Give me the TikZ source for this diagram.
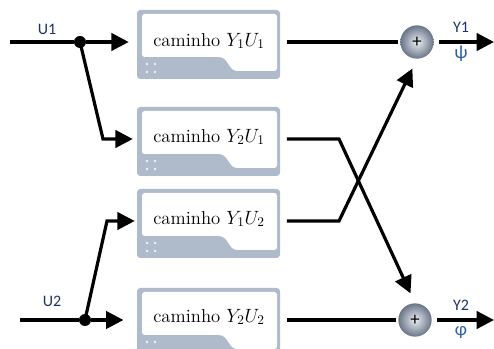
\documentclass[tikz,border=0pt]{standalone}
\usepackage{fontspec}
\newfontfamily\lab{Carlito}
\usetikzlibrary{arrows.meta,calc}
\definecolor{blockgray}{RGB}{175,186,203}
\definecolor{navy}{RGB}{30,50,100}
\definecolor{greekblue}{RGB}{45,95,170}
\definecolor{ballin}{RGB}{235,238,243}
\definecolor{ballout}{RGB}{105,117,135}
\newcommand\blockframe[1]{%
  \fill[blockgray, rounded corners=2.5pt] (137,#1) rectangle (280,#1+69);
  \fill[white, rounded corners=2pt] (142,#1+4) -- (277,#1+4) -- (277,#1+61) -- (240,#1+61)
     .. controls (228,#1+61) and (229,#1+47) .. (216,#1+47) -- (142,#1+47) -- cycle;
  \foreach \dx in {147,155}{\foreach \dy in {54,62}{\fill[white!85!blockgray] (\dx,#1+\dy) circle (1pt);}}
}
\begin{document}
\begin{tikzpicture}[x=0.75pt,y=-0.75pt,
  wire/.style={line width=2.4pt},
  arr/.style={wire,-{Triangle[length=13pt,width=13pt]}},
  blk/.style={minimum width=107.25pt, minimum height=48pt, inner sep=0pt},
  junct/.style={circle,fill=black,inner sep=0pt,minimum size=9pt},
  sumnode/.style={circle, inner color=ballin, outer color=ballout, minimum size=25pt, inner sep=0pt, font=\lab\fontsize{14}{15}\selectfont},
  lbl/.style={font=\lab\fontsize{12}{13}\selectfont, text=navy, inner sep=0pt},
  greek/.style={font=\lab\fontsize{14}{15}\selectfont, text=greekblue, inner sep=0pt},
  txt/.style={font=\fontsize{14}{16}\selectfont, inner sep=0pt}
]
\useasboundingbox (0,0) rectangle (494,349);
\clip (0,0) rectangle (494,349);
% blocks
\blockframe{10}
\blockframe{107}
\blockframe{189}
\blockframe{288}
\node[blk] (b1) at (208.5,42) {};
\node[blk] (b2) at (208.5,139) {};
\node[blk] (b3) at (208.5,221) {};
\node[blk] (b4) at (208.5,320) {};
\node[txt] (t1) at (209,41) {caminho $Y_1U_1$};
\node[txt] (t2) at (209,137) {caminho $Y_2U_1$};
\node[txt] (t3) at (209,219) {caminho $Y_1U_2$};
\node[txt] (t4) at (209,317) {caminho $Y_2U_2$};
% sums
\node[sumnode] (s1) at (417,42) {+};
\node[sumnode] (s2) at (415,320) {+};
% inputs
\coordinate (i1) at (10,42);
\node[junct] (d1) at (80,42) {};
\draw[wire] (i1) -- (d1);
\draw[arr, shorten >=6pt] (d1) -- (b1);
\coordinate (k1) at (103,139);
\draw[arr, shorten >=3pt] (d1.center) -- (k1) -- (b2);
\coordinate (i2) at (20,320);
\node[junct] (d2) at (85,320) {};
\draw[wire] (i2) -- (d2);
\draw[arr, shorten >=10pt] (d2) -- (b4);
\coordinate (k2) at (107,221);
\draw[arr, shorten >=1.5pt] (d2.center) -- (k2) -- (b3);
% outputs
\draw[wire, shorten <=5pt, shorten >=1.5pt] (b1) -- (s1);
\coordinate (c1) at (339,139);
\draw[arr, shorten <=5pt, shorten >=8pt] (b2) -- (c1) -- (s2.north);
\coordinate (c2) at (339,221);
\draw[arr, shorten <=5pt, shorten >=8pt] (b3) -- (c2) -- (s1.south);
\draw[wire, shorten <=5pt, shorten >=1.5pt] (b4) -- (s2);
\coordinate (o1) at (494,42);
\coordinate (o2) at (494,320);
\draw[arr, shorten <=4pt] (s1) -- (o1);
\draw[arr, shorten <=4pt] (s2) -- (o2);
% labels
\node[lbl] (u1) at (47,29) {U1};
\node[lbl] (u2) at (52,301) {U2};
\node[lbl] (y1) at (461,27) {Y1};
\node[greek] (g1) at (461,54) {ψ};
\node[lbl] (y2) at (461,305) {Y2};
\node[greek] (g2) at (461,332) {φ};
\end{tikzpicture}
\end{document}
